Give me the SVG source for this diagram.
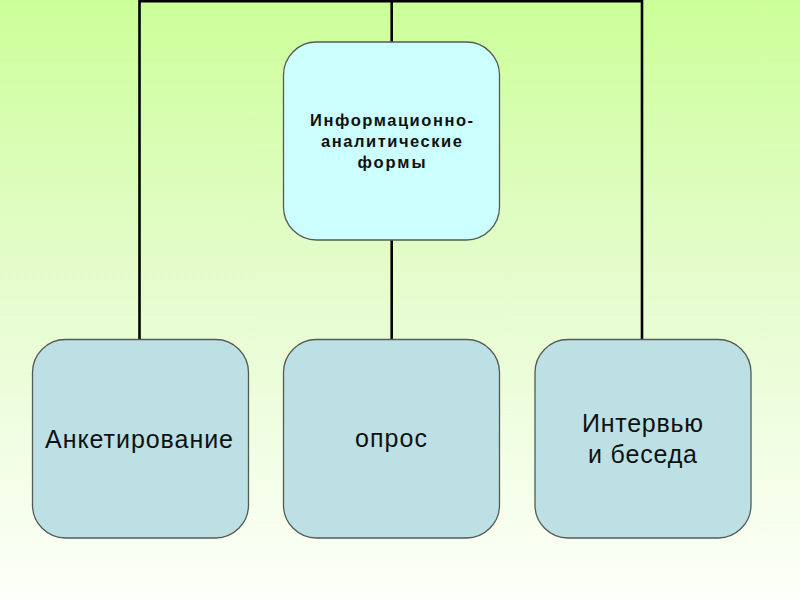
<svg xmlns="http://www.w3.org/2000/svg" width="800" height="600" viewBox="0 0 800 600">
  <defs>
    <linearGradient id="bg" x1="0" y1="0" x2="0" y2="1">
      <stop offset="0" stop-color="#ccff99"/>
      <stop offset="0.45" stop-color="#e4fccb"/>
      <stop offset="1" stop-color="#fdfff9"/>
    </linearGradient>
  </defs>
  <style>
    .box { stroke: #555a55; stroke-width: 1.3; }
    .top { fill: #ccffff; }
    .leaf { fill: #bce0e3; }
    .conn { stroke: #000; stroke-width: 2.6; fill: none; }
    .t1 { font-family: "Liberation Sans", Arial, sans-serif; font-weight: bold; font-size: 16.5px; fill: #111; text-anchor: middle; }
    .t2 { font-family: "Liberation Sans", Arial, sans-serif; font-size: 25px; fill: #111; text-anchor: middle; }
  </style>
  <rect x="0" y="0" width="800" height="600" fill="url(#bg)"/>
  <g id="connectors">
    <polyline class="conn" points="139.5,340 139.5,1.3 642,1.3 642,340"/>
    <line class="conn" x1="391.7" y1="0" x2="391.7" y2="42"/>
    <line class="conn" x1="391.7" y1="240" x2="391.7" y2="339"/>
  </g>
  <g id="node-root">
    <rect class="box top" x="283.5" y="42" width="216" height="198" rx="33" ry="33"/>
    <text class="t1" x="391.5" y="125.5" textLength="163" lengthAdjust="spacing">Информационно-</text>
    <text class="t1" x="391.5" y="146.5" textLength="141" lengthAdjust="spacing">аналитические</text>
    <text class="t1" x="391.5" y="168" textLength="68" lengthAdjust="spacing">формы</text>
  </g>
  <g id="node-anketirovanie">
    <rect class="box leaf" x="32.5" y="339.5" width="216" height="198.5" rx="33" ry="33"/>
    <text class="t2" x="139" y="448" textLength="188" lengthAdjust="spacing">Анкетирование</text>
  </g>
  <g id="node-opros">
    <rect class="box leaf" x="283.5" y="339.5" width="216" height="198.5" rx="33" ry="33"/>
    <text class="t2" x="391" y="447" textLength="72" lengthAdjust="spacing">опрос</text>
  </g>
  <g id="node-interview">
    <rect class="box leaf" x="535" y="339.5" width="216" height="198.5" rx="33" ry="33"/>
    <text class="t2" x="642.5" y="432" textLength="121" lengthAdjust="spacing">Интервью</text>
    <text class="t2" x="642.5" y="463" textLength="109" lengthAdjust="spacing">и беседа</text>
  </g>
</svg>
